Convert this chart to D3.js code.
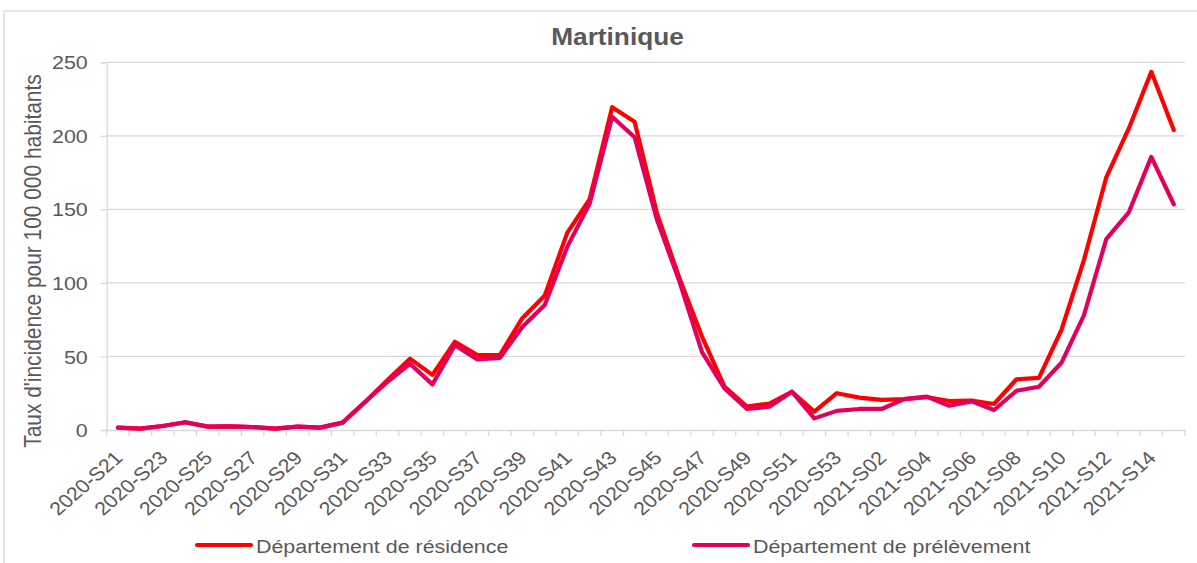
<!DOCTYPE html>
<html>
<head>
<meta charset="utf-8">
<script src="https://cdn.jsdelivr.net/npm/d3@7"></script>
<style>
  body { margin: 0; background: #fff; }
  svg { display: block; font-family: "Liberation Sans", Arial, sans-serif; }
</style>
</head>
<body>
<svg id="chart" width="1197" height="563"></svg>
<script>
// weekly incidence rate, Martinique
const categories = [
  '2020-S21', '2020-S22', '2020-S23', '2020-S24', '2020-S25', '2020-S26', '2020-S27', '2020-S28',
  '2020-S29', '2020-S30', '2020-S31', '2020-S32', '2020-S33', '2020-S34', '2020-S35', '2020-S36',
  '2020-S37', '2020-S38', '2020-S39', '2020-S40', '2020-S41', '2020-S42', '2020-S43', '2020-S44',
  '2020-S45', '2020-S46', '2020-S47', '2020-S48', '2020-S49', '2020-S50', '2020-S51', '2020-S52',
  '2020-S53', '2021-S01', '2021-S02', '2021-S03', '2021-S04', '2021-S05', '2021-S06', '2021-S07',
  '2021-S08', '2021-S09', '2021-S10', '2021-S11', '2021-S12', '2021-S13', '2021-S14', '2021-S15'
];
const residence = [
  1.6, 0.9, 2.7, 5.3, 2.3, 2.5, 2.0, 0.9, 2.3, 1.6, 5.0, 19.0,
  34.0, 48.5, 37.5, 60.0, 51.0, 51.0, 76.0, 91.5, 134.0, 157.0, 219.5, 209.5,
  147.0, 103.0, 63.5, 29.5, 16.0, 18.0, 26.0, 12.5, 25.0, 22.0, 20.5, 21.0,
  22.4, 19.7, 20.0, 17.7, 34.5, 35.5, 68.0, 115.5, 172.0, 205.0, 243.5, 204.0
];
const prelevement = [
  1.6, 0.9, 2.7, 5.3, 2.3, 2.5, 2.0, 0.9, 2.3, 1.6, 5.0, 19.0,
  32.8, 45.0, 31.0, 57.7, 48.0, 49.0, 70.0, 85.0, 124.5, 154.0, 213.0, 199.0,
  142.7, 100.7, 53.0, 28.3, 14.3, 15.8, 26.0, 7.9, 13.0, 14.3, 14.3, 21.0,
  22.7, 16.5, 19.5, 13.6, 26.7, 29.4, 45.7, 78.0, 130.0, 148.0, 185.7, 153.5
];
const yTicks = [0, 50, 100, 150, 200, 250];
const seriesNames = ['Département de résidence', 'Département de prélèvement'];
const seriesColors = ['#ff0000', '#e2005c'];

const textColor = '#595959';
const gridColor = '#d9d9d9';
const sx = 1.14; // the picture is a bit wider than tall

var svg = d3.select('#chart');

// chart frame
svg.append('rect')
  .attr('x', 4).attr('y', 11)
  .attr('width', 1250).attr('height', 600)
  .attr('fill', 'none').attr('stroke', gridColor).attr('stroke-width', 1.3);

var x = d3.scaleBand().domain(categories).range([106.7, 1185]);
var y = d3.scaleLinear().domain([0, 250]).range([430, 62.3]);

// gridlines
svg.append('g')
  .selectAll('line')
  .data(yTicks.filter(d => d > 0))
  .enter().append('line')
  .attr('x1', 106.7).attr('x2', 1185)
  .attr('y1', d => y(d)).attr('y2', d => y(d))
  .attr('stroke', gridColor).attr('stroke-width', 1.3);

// y axis
var yAxis = svg.append('g')
  .attr('transform', 'translate(106.7,0)')
  .call(d3.axisLeft(y).tickValues(yTicks).tickSize(6).tickPadding(0));
yAxis.select('.domain').attr('stroke', gridColor).attr('stroke-width', 1.3);
yAxis.selectAll('.tick line').attr('stroke', gridColor).attr('stroke-width', 1.3);
yAxis.selectAll('.tick text')
  .attr('x', 0).attr('dy', '0.35em')
  .attr('transform', 'translate(-19,0) scale(' + sx + ',1)')
  .attr('fill', textColor)
  .style('font-size', '18.8px');

// x axis
var xAxis = svg.append('g')
  .attr('transform', 'translate(0,430)')
  .call(d3.axisBottom(x)
    .tickValues(categories.filter((d, i) => i % 2 === 0))
    .tickSize(0).tickPadding(0));
xAxis.select('.domain').attr('stroke', gridColor).attr('stroke-width', 1.3);
xAxis.selectAll('.tick text')
  .attr('x', 0).attr('y', 0).attr('dy', 0)
  .attr('text-anchor', 'end')
  .attr('transform', 'translate(6,29) scale(' + sx + ',1) rotate(-45)')
  .attr('fill', textColor)
  .style('font-size', '18.8px');

// tick marks between categories
svg.append('g')
  .selectAll('line')
  .data(categories.concat(['end']))
  .enter().append('line')
  .attr('x1', (d, i) => 106.7 + i * x.step())
  .attr('x2', (d, i) => 106.7 + i * x.step())
  .attr('y1', 430).attr('y2', 436)
  .attr('stroke', gridColor).attr('stroke-width', 1.3);

// y axis title
svg.append('text')
  .attr('transform', 'translate(41,261) scale(' + sx + ',1) rotate(-90)')
  .attr('text-anchor', 'middle')
  .attr('fill', textColor)
  .style('font-size', '20.9px')
  .text("Taux d'incidence pour 100 000 habitants");

// title
svg.append('text')
  .attr('transform', 'translate(617.5,45) scale(' + sx + ',1)')
  .attr('text-anchor', 'middle')
  .attr('fill', textColor)
  .style('font-size', '23px')
  .style('font-weight', 'bold')
  .text('Martinique');

// lines
var line = d3.line()
  .x((d, i) => x(categories[i]) + x.bandwidth() / 2)
  .y(d => y(d));

[residence, prelevement].forEach(function (values, k) {
  svg.append('path')
    .datum(values)
    .attr('d', line)
    .attr('fill', 'none')
    .attr('stroke', seriesColors[k])
    .attr('stroke-width', 4.2)
    .attr('stroke-linejoin', 'round')
    .attr('stroke-linecap', 'round');
});

// legend
var legendX = [197, 694];
seriesNames.forEach(function (name, k) {
  var g = svg.append('g').attr('transform', 'translate(' + legendX[k] + ',545)');
  g.append('line')
    .attr('x1', 0).attr('x2', 54)
    .attr('stroke', seriesColors[k]).attr('stroke-width', 4.2)
    .attr('stroke-linecap', 'round');
  g.append('text')
    .attr('transform', 'translate(59,8) scale(' + sx + ',1)')
    .attr('fill', textColor)
    .style('font-size', '18.8px')
    .text(name);
});
</script>
</body>
</html>
